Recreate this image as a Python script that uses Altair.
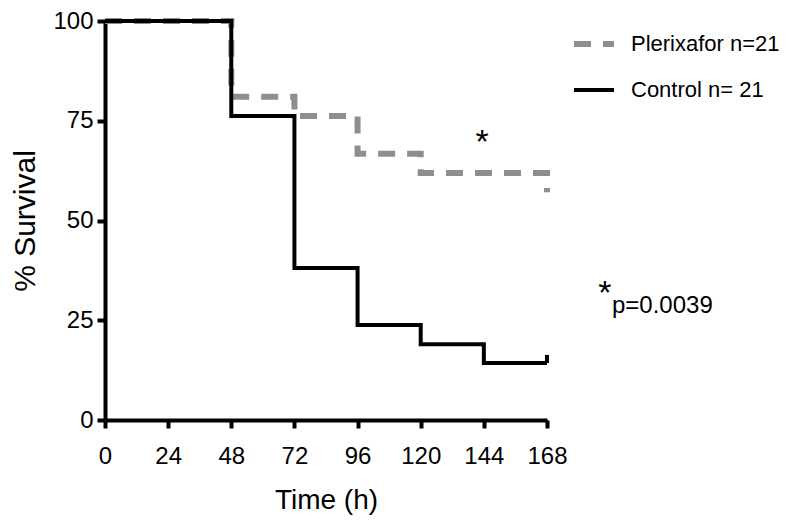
import altair as alt
import pandas as pd

# Kaplan-Meier survival steps (time in hours, % survival)
plerixafor_t = [0, 48, 72, 96, 120, 168]
plerixafor_s = [100, 81.0, 76.2, 66.7, 61.9, 57.1]
control_t = [0, 48, 72, 96, 120, 144, 168]
control_s = [100, 76.2, 38.1, 23.8, 19.0, 14.3, 14.3]
series_names = ["Plerixafor n=21", "Control n= 21"]

# censor mark at end of control curve
censor_t = [168]
censor_s = [14.3]
censor_s2 = [16.3]

x_ticks = [0, 24, 48, 72, 96, 120, 144, 168]
y_ticks = [0, 25, 50, 75, 100]

# annotations: stars and p-value
star_x = [143.3, 190.0]
star_y = [67.0, 29.1]
p_x = [192.7]
p_y = [26.7]
p_text = ["p=0.0039"]

FONT = "Liberation Sans, Arial"

rows = []
for t, s in zip(plerixafor_t, plerixafor_s):
    rows.append({"time": t, "surv": s, "group": series_names[0], "order": 0})
for t, s in zip(control_t, control_s):
    rows.append({"time": t, "surv": s, "group": series_names[1], "order": 1})
df = pd.DataFrame(rows)

x_scale = alt.Scale(domain=[0, 168], nice=False, zero=False)
y_scale = alt.Scale(domain=[0, 100], nice=False)

color_scale = alt.Scale(domain=series_names, range=["#8e8e8e", "#000000"])
dash_scale = alt.Scale(domain=series_names, range=[[17, 12], [1, 0]])
width_scale = alt.Scale(domain=series_names, range=[6, 4])

legend = alt.Legend(
    title=None, orient="none", legendX=466, legendY=0,
    symbolType="stroke", symbolSize=1600, labelFont=FONT, labelFontSize=22,
    labelColor="black", rowPadding=12, labelOffset=14, labelLimit=300,
)

lines = alt.Chart(df).mark_line(interpolate="step-after", strokeCap="butt").encode(
    x=alt.X("time:Q", scale=x_scale,
            axis=alt.Axis(values=x_ticks, title="Time (h)", titlePadding=18,
                          labelOverlap=False, labelFlush=False, labelPadding=16,
                          titleFontSize=28)),
    y=alt.Y("surv:Q", scale=y_scale,
            axis=alt.Axis(values=y_ticks, title="% Survival", titlePadding=12,
                          labelOverlap=False, labelFlush=False, labelPadding=4,
                          titleFontSize=30)),
    color=alt.Color("group:N", scale=color_scale, legend=legend, sort=series_names),
    strokeDash=alt.StrokeDash("group:N", scale=dash_scale, legend=legend, sort=series_names),
    strokeWidth=alt.StrokeWidth("group:N", scale=width_scale, legend=legend, sort=series_names),
    order=alt.Order("order:Q", sort="ascending"),
    detail="group:N",
)

censor_df = pd.DataFrame({"time": censor_t, "s": censor_s, "s2": censor_s2})
censor = alt.Chart(censor_df).mark_rule(color="black", strokeWidth=4).encode(
    x=alt.X("time:Q", scale=x_scale),
    y=alt.Y("s:Q", scale=y_scale),
    y2="s2:Q",
)

star_df = pd.DataFrame({"x": star_x, "y": star_y, "t": ["*"] * len(star_x)})
stars = alt.Chart(star_df).mark_text(
    font=FONT, fontSize=34, align="center", baseline="alphabetic", color="black"
).encode(
    x=alt.X("x:Q", scale=x_scale),
    y=alt.Y("y:Q", scale=y_scale),
    text="t:N",
)

p_df = pd.DataFrame({"x": p_x, "y": p_y, "t": p_text})
ptext = alt.Chart(p_df).mark_text(
    font=FONT, fontSize=24, align="left", baseline="alphabetic", color="black"
).encode(
    x=alt.X("x:Q", scale=x_scale),
    y=alt.Y("y:Q", scale=y_scale),
    text="t:N",
)

chart = alt.layer(lines, censor, stars, ptext).properties(
    width=442, height=399,
    autosize=alt.AutoSizeParams(type="none"),
    padding={"left": 97, "top": 13, "right": 235, "bottom": 101},
).configure_view(stroke=None).configure_axis(
    domainColor="black", domainWidth=4, tickColor="black", tickWidth=4,
    tickSize=8, grid=False, labelFont=FONT, labelFontSize=24, labelColor="black",
    titleFont=FONT, titleFontWeight="normal", titleColor="black",
)

chart.save("out.html", embed_options={"renderer": "svg", "actions": False})
